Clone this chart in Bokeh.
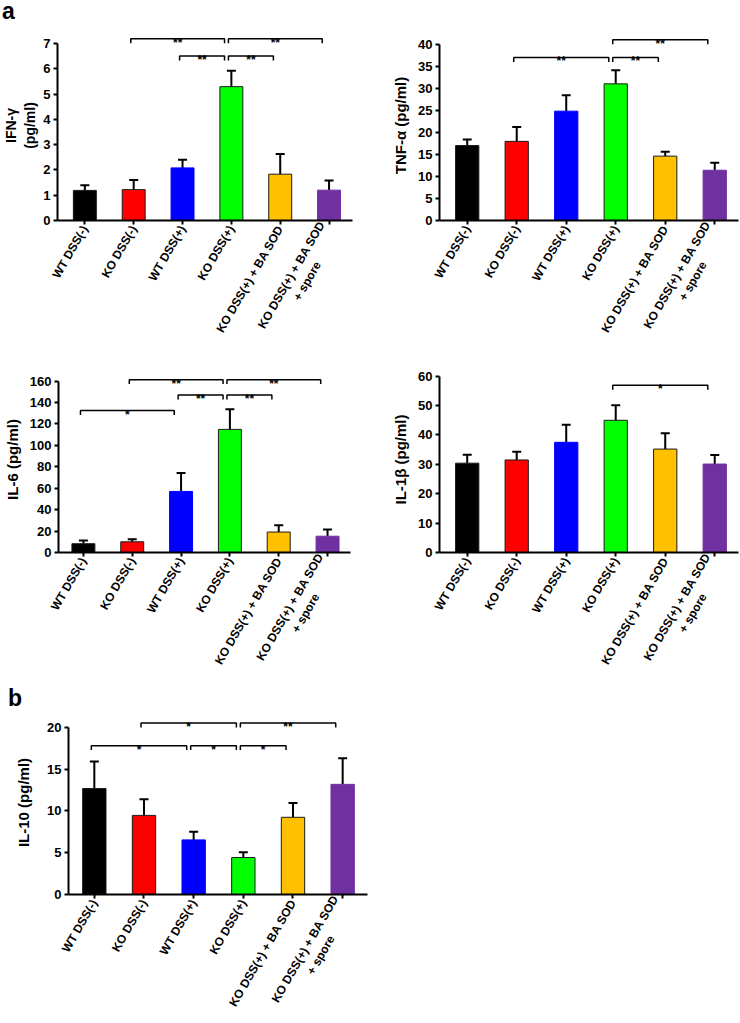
import math
from bokeh.plotting import figure
from bokeh.models import Range1d, FixedTicker, Whisker, TeeHead, ColumnDataSource, Div
from bokeh.layouts import column, row
from bokeh.embed import file_html
from bokeh.resources import INLINE
from bokeh.core.properties import value

# ---------------- data ----------------
NB = "\u00a0"
groups = ["WT DSS(-)", "KO DSS(-)", "WT DSS(+)", "KO DSS(+)",
          "KO DSS(+) + BA SOD", "KO DSS(+) + BA SOD\n+ spore" + NB * 11]
bar_colors = ["#000000", "#FF0000", "#0000FF", "#00FF00", "#FFC000", "#7030A0"]
bar_edges = ["#1a1a1a", "#1a1a1a", "#0000FF", "#1a1a1a", "#1a1a1a", "#7030A0"]

ifng_mean = [1.19, 1.22, 2.08, 5.29, 1.83, 1.20]
ifng_sem = [0.20, 0.38, 0.32, 0.63, 0.80, 0.38]
ifng_ticks = [0, 1, 2, 3, 4, 5, 6, 7]
ifng_sig = [(1, 3, 7.18, "**"), (3, 5, 7.18, "**"), (2, 3, 6.5, "**"), (3, 4, 6.5, "**")]

tnfa_mean = [17.0, 17.95, 24.8, 31.0, 14.6, 11.4]
tnfa_sem = [1.4, 3.25, 3.6, 3.1, 1.0, 1.7]
tnfa_ticks = [0, 5, 10, 15, 20, 25, 30, 35, 40]
tnfa_sig = [(1, 3, 37.0, "**"), (3, 4, 37.0, "**"), (3, 5, 41.0, "**")]

il6_mean = [8.2, 10.0, 57.0, 114.9, 19.1, 15.2]
il6_sem = [3.1, 2.4, 17.3, 18.7, 6.4, 6.3]
il6_ticks = [0, 20, 40, 60, 80, 100, 120, 140, 160]
il6_sig = [(1, 3, 161.3, "**"), (3, 5, 161.3, "**"), (2, 3, 147.0, "**"),
           (3, 4, 147.0, "**"), (0, 2, 132.5, "*")]

il1b_mean = [30.4, 31.5, 37.5, 45.0, 35.2, 30.1]
il1b_sem = [2.9, 2.8, 6.0, 5.1, 5.4, 3.1]
il1b_ticks = [0, 10, 20, 30, 40, 50, 60]
il1b_sig = [(3, 5, 56.9, "*")]

il10_mean = [12.67, 9.46, 6.53, 4.42, 9.23, 13.17]
il10_sem = [3.23, 1.94, 0.97, 0.62, 1.72, 3.13]
il10_ticks = [0, 5, 10, 15, 20]
il10_sig = [(1, 3, 20.5, "*"), (3, 5, 20.5, "**"), (0, 2, 17.8, "*"),
            (2, 3, 17.8, "*"), (3, 4, 17.8, "*")]

FONT = "Liberation Sans"


def panel(means, sems, ticks, sig, ylabel, w, h, ml, mr, mt, mb, xr, ytop,
          lab_size="15px", lab_standoff=6):
    p = figure(width=w, height=h, x_range=Range1d(*xr), y_range=Range1d(0, ytop),
               output_backend="svg", toolbar_location=None,
               min_border_left=ml, min_border_right=mr,
               min_border_top=mt, min_border_bottom=mb)
    p.outline_line_color = None
    p.grid.visible = False
    xs = list(range(len(groups)))
    src = ColumnDataSource(dict(
        x=xs, top=means, upper=[m + s for m, s in zip(means, sems)],
        color=bar_colors, edge=bar_edges))
    p.vbar(x="x", top="top", bottom=0, width=0.47, fill_color="color",
           line_color="edge", line_width=1, source=src)
    wh = Whisker(source=src, base="x", lower="top", upper="upper", dimension="height",
                 line_color="black", line_width=2,
                 upper_head=TeeHead(size=9, line_width=2, line_color="black"),
                 lower_head=None)
    p.add_layout(wh)

    # significance brackets
    frame_h = h - mt - mb
    d = 4.5 * ytop / frame_h
    bx, by, sx, sy, st = [], [], [], [], []
    for i, j, y, lab in sig:
        x0, x1 = i - 0.06, j - 0.14
        bx.append([x0, x0, x1, x1])
        by.append([y - d, y, y, y - d])
        sx.append((x0 + x1) / 2)
        sy.append(y)
        st.append(lab)
    p.multi_line(xs=bx, ys=by, line_color="black", line_width=1.5)
    p.text(x=sx, y=sy, text=st, text_align="center", text_baseline="alphabetic",
           y_offset=4, text_font=value(FONT), text_font_size="12px",
           text_font_style="bold", text_color="black")

    # axes
    p.yaxis.ticker = FixedTicker(ticks=ticks)
    p.yaxis.bounds = (ticks[0], ticks[-1])
    p.xaxis.ticker = FixedTicker(ticks=xs)
    p.xaxis.major_label_overrides = {i: g for i, g in enumerate(groups)}
    p.xaxis.major_label_orientation = math.radians(60)
    for ax in (p.xaxis[0], p.yaxis[0]):
        ax.axis_line_width = 2
        ax.axis_line_color = "black"
        ax.major_tick_line_width = 2
        ax.major_tick_line_color = "black"
        ax.major_tick_out = 4
        ax.major_tick_in = 0
        ax.minor_tick_line_color = None
        ax.major_label_text_font = FONT
        ax.major_label_text_font_style = "bold"
        ax.major_label_text_color = "black"
    p.xaxis.major_label_text_font_size = "12px"
    p.yaxis.major_label_text_font_size = "13px"
    p.xaxis.major_label_standoff = 2
    p.yaxis.major_label_standoff = 3
    p.yaxis.axis_label = ylabel
    p.yaxis.axis_label_text_font = FONT
    p.yaxis.axis_label_text_font_style = "bold"
    p.yaxis.axis_label_text_font_size = lab_size
    p.yaxis.axis_label_text_color = "black"
    p.yaxis.axis_label_standoff = lab_standoff
    return p


p1 = panel(ifng_mean, ifng_sem, ifng_ticks, ifng_sig, "IFN-γ\n(pg/ml)",
           362, 330, 51, 10, 10, 130, (-0.56, 5.48), 7.51,
           lab_size="14px", lab_standoff=2)
p2 = panel(tnfa_mean, tnfa_sem, tnfa_ticks, tnfa_sig, "TNF-α (pg/ml)",
           378, 330, 77, 2, 10, 130, (-0.56, 5.48), 43.1)
p3 = panel(il6_mean, il6_sem, il6_ticks, il6_sig, "IL-6 (pg/ml)",
           362, 337, 58, 12, 16, 130, (-0.51, 5.47), 173.6)
p4 = panel(il1b_mean, il1b_sem, il1b_ticks, il1b_sig, "IL-1β (pg/ml)",
           378, 337, 77, 2, 16, 135, (-0.56, 5.48), 63.3)
p5 = panel(il10_mean, il10_sem, il10_ticks, il10_sig, "IL-10 (pg/ml)",
           372, 316, 68, 5, 3, 128, (-0.52, 5.50), 22.0, lab_standoff=12)

lab_style = ("font-family:'Liberation Sans',Arial;font-weight:bold;font-size:23px;"
             "line-height:20px;color:black;margin:0;")
div_a = Div(text=f"<div style=\"{lab_style}padding:1px 0 0 2px;\">a</div>",
            width=40, height=20, margin=(0, 0, 0, 0))
div_b = Div(text=f"<div style=\"{lab_style}padding:1px 0 0 8px;\">b</div>",
            width=40, height=20, margin=(0, 0, 0, 0))

layout = column(div_a, row(p1, p2), row(p3, p4), div_b, p5)

open("out.html", "w").write(file_html(layout, INLINE))
